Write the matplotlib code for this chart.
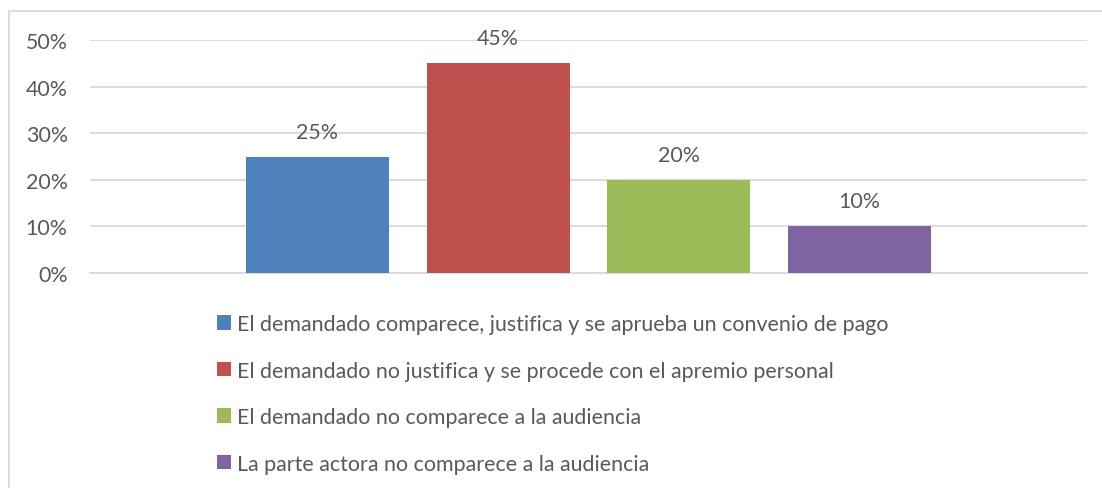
import matplotlib.pyplot as plt
from matplotlib.patches import Rectangle

labels = [
    "El demandado comparece, justifica y se aprueba un convenio de pago",
    "El demandado no justifica y se procede con el apremio personal",
    "El demandado no comparece a la audiencia",
    "La parte actora no comparece a la audiencia",
]
values = [25, 45, 20, 10]
colors = ["#4F81BD", "#C0504D", "#9BBB59", "#8064A2"]
yticks = [0, 10, 20, 30, 40, 50]

plt.rcParams["font.family"] = ["Lato", "DejaVu Sans"]
TXT = "#595959"
FS = 15.4

W, H = 1102, 489
fig = plt.figure(figsize=(W / 100, H / 100), dpi=100)

# light chart border (extends past right/bottom edge)
fig.patches.append(Rectangle((9 / W, -0.1), 1.2, 1 - 12 / H + 0.1, transform=fig.transFigure,
                             fill=False, edgecolor="#D9D9D9", linewidth=1.3))

ax = fig.add_axes([90 / W, 1 - 274 / H, (1087 - 90) / W, (274 - 41) / H])
x = list(range(len(values)))
bars = ax.bar(x, values, width=143 / 181, color=colors, zorder=3)
for b, v in zip(bars, values):
    ax.text(b.get_x() + b.get_width() / 2, v + 3.2, f"{v}%", ha="center", va="bottom",
            fontsize=FS, color=TXT)

ax.set_xlim(-(317.5 - 90) / 181, 3 + (1087 - 859.5) / 181)
ax.set_ylim(0, 50)
ax.set_yticks(yticks)
ax.set_yticklabels([f"{t}%" for t in yticks], fontsize=FS, color=TXT)
ax.set_xticks([])
ax.tick_params(axis="y", length=0, pad=16)
ax.grid(axis="y", color="#D9D9D9", linewidth=1.3, zorder=0)
for s in ["top", "right", "left"]:
    ax.spines[s].set_visible(False)
ax.spines["bottom"].set_color("#D9D9D9")
ax.spines["bottom"].set_linewidth(1.3)

leg = fig.legend(bars, labels, loc="upper left", bbox_to_anchor=(217 / W, 1 - 315 / H),
                 frameon=False, fontsize=FS, handlelength=0.65, handleheight=0.65,
                 handletextpad=0.3, labelspacing=1.24, borderaxespad=0, borderpad=0)
for t in leg.get_texts():
    t.set_color(TXT)

fig.savefig("out.png", dpi=100)
